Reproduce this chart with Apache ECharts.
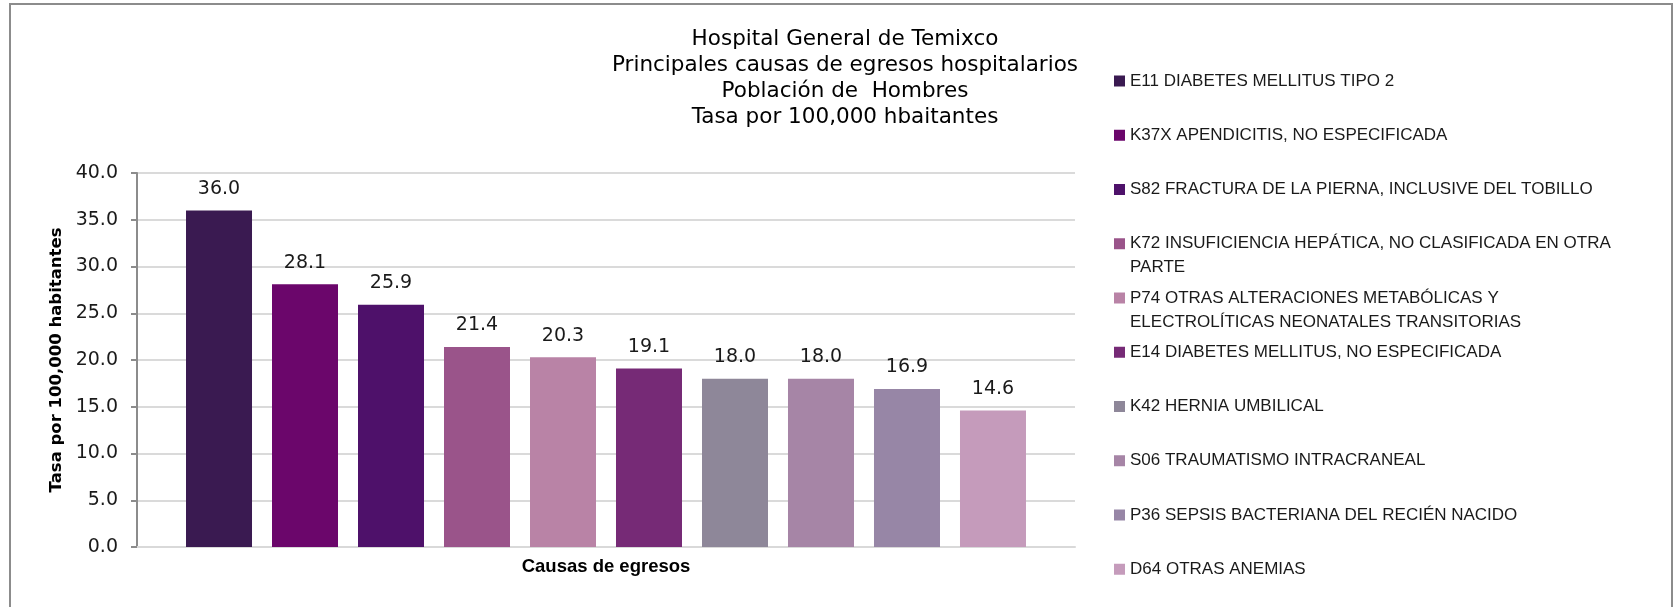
<!DOCTYPE html>
<html><head><meta charset="utf-8">
<script src="https://cdn.jsdelivr.net/npm/echarts@6/dist/echarts.min.js"></script>
<style>html,body{margin:0;padding:0;background:#fff}#c{width:1673px;height:607px}</style>
</head><body><div id="c"></div>
<script>
const titleLines = ['Hospital General de Temixco', 'Principales causas de egresos hospitalarios', 'Población de  Hombres', 'Tasa por 100,000 hbaitantes'];
const categories = ['Causas de egresos'];
const yAxisName = 'Tasa por 100,000 habitantes';
const causes = [
  'E11 DIABETES MELLITUS TIPO 2',
  'K37X APENDICITIS, NO ESPECIFICADA',
  'S82 FRACTURA DE LA PIERNA, INCLUSIVE DEL TOBILLO',
  'K72 INSUFICIENCIA HEPÁTICA, NO CLASIFICADA EN OTRA PARTE',
  'P74 OTRAS ALTERACIONES METABÓLICAS Y ELECTROLÍTICAS NEONATALES TRANSITORIAS',
  'E14 DIABETES MELLITUS, NO ESPECIFICADA',
  'K42 HERNIA UMBILICAL',
  'S06 TRAUMATISMO INTRACRANEAL',
  'P36 SEPSIS BACTERIANA DEL RECIÉN NACIDO',
  'D64 OTRAS ANEMIAS'
];
const legendLines = [
  'E11 DIABETES MELLITUS TIPO 2',
  'K37X APENDICITIS, NO ESPECIFICADA',
  'S82 FRACTURA DE LA PIERNA, INCLUSIVE DEL TOBILLO',
  'K72 INSUFICIENCIA HEPÁTICA, NO CLASIFICADA EN OTRA\nPARTE',
  'P74 OTRAS ALTERACIONES METABÓLICAS Y\nELECTROLÍTICAS NEONATALES TRANSITORIAS',
  'E14 DIABETES MELLITUS, NO ESPECIFICADA',
  'K42 HERNIA UMBILICAL',
  'S06 TRAUMATISMO INTRACRANEAL',
  'P36 SEPSIS BACTERIANA DEL RECIÉN NACIDO',
  'D64 OTRAS ANEMIAS'
];
const rates = [36.0, 28.1, 25.9, 21.4, 20.3, 19.1, 18.0, 18.0, 16.9, 14.6];
const yMin = 0, yMax = 40, yInterval = 5;
const colors = ['#3a1a51', '#6b066b', '#4e116a', '#9a548a', '#b983a6', '#762a76', '#8e8799', '#a685a6', '#9786a6', '#c59bbb'];

const chart = echarts.init(document.getElementById('c'), null, {renderer: 'canvas'});

const legends = causes.map((name, i) => {
  const twoLine = legendLines[i].indexOf('\n') >= 0;
  const y = 81 + 54.25 * i;
  return {
    orient: 'vertical', left: 1114, top: twoLine ? y - 36 : y - 12, padding: 0,
    itemWidth: 11, itemHeight: 11, icon: 'rect', selectedMode: false,
    data: [name],
    // a blank leading line keeps the marker level with the first text line
    formatter: () => (twoLine ? ' \n' : '') + legendLines[i],
    textStyle: {fontFamily: 'Liberation Sans', fontSize: 17, lineHeight: 24, color: '#1a1a1a'}
  };
});

const series = causes.map((name, i) => ({
  type: 'bar', name: name, data: [rates[i]],
  barWidth: 66, barGap: '30.3%',
  itemStyle: {color: colors[i]},
  label: {show: true, position: 'top', distance: 12,
    formatter: p => Number(p.value).toFixed(1),
    fontFamily: 'DejaVu Sans', fontSize: 19, color: '#1a1a1a'}
}));

chart.setOption({
  animation: false,
  backgroundColor: '#fff',
  title: {
    text: titleLines.join('\n'), left: 845, top: 26, padding: 0, textAlign: 'center',
    textStyle: {fontFamily: 'DejaVu Sans', fontSize: 21.5, fontWeight: 'normal', lineHeight: 26, color: '#000'}
  },
  legend: legends,
  grid: {left: 137, right: 598, top: 173, bottom: 60, containLabel: false},
  xAxis: {
    type: 'category', data: categories,
    axisLine: {show: true, lineStyle: {color: '#d9d9d9', width: 2}},
    axisTick: {show: false},
    axisLabel: {margin: 10, fontFamily: 'Liberation Sans', fontWeight: 'bold', fontSize: 18.5, color: '#000'}
  },
  yAxis: {
    type: 'value', min: yMin, max: yMax, interval: yInterval,
    name: yAxisName, nameLocation: 'middle', nameGap: 70,
    nameTextStyle: {fontFamily: 'DejaVu Sans', fontWeight: 'bold', fontSize: 16.5, color: '#000'},
    axisLine: {show: true, lineStyle: {color: '#8c8c8c', width: 2}},
    axisTick: {show: true, length: 6, inside: false, lineStyle: {color: '#8c8c8c', width: 2}},
    axisLabel: {margin: 19, formatter: v => v.toFixed(1), fontFamily: 'DejaVu Sans', fontSize: 19, color: '#1a1a1a'},
    splitLine: {show: true, lineStyle: {color: '#dadada', width: 2}}
  },
  graphic: [{
    type: 'rect', silent: true, z: 100,
    shape: {x: 10, y: 4, width: 1662, height: 700},
    style: {fill: 'none', stroke: '#8c8c8c', lineWidth: 2}
  }],
  series: series
});
</script></body></html>
